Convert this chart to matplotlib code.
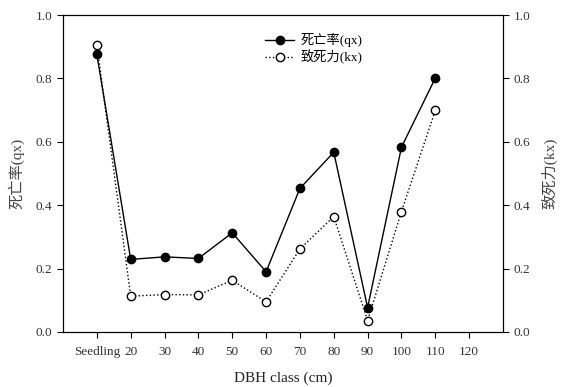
import matplotlib
matplotlib.use('Agg')
import matplotlib.pyplot as plt

plt.rcParams['font.family'] = ['Liberation Serif', 'Noto Sans CJK SC']

# DBH classes and life table values
classes = ['Seedling', '20', '30', '40', '50', '60', '70', '80', '90', '100', '110', '120']
qx = [0.876, 0.229, 0.237, 0.232, 0.313, 0.190, 0.453, 0.567, 0.077, 0.583, 0.801]
kx = [0.905, 0.113, 0.118, 0.117, 0.163, 0.095, 0.262, 0.364, 0.036, 0.380, 0.699]

fig = plt.figure(figsize=(5.64, 3.87), dpi=100)
ax1 = fig.add_axes([63/564, 1 - 332/387, 440/564, 317/387])
ax2 = ax1.twinx()

x = list(range(len(qx)))
l1, = ax1.plot(x, qx, color='black', linestyle='-', linewidth=1, marker='o',
               markersize=6, markerfacecolor='black', markeredgecolor='black',
               label='死亡率(qx)', zorder=3)
l2, = ax2.plot(x, kx, color='black', linestyle=':', linewidth=1, marker='o',
               markersize=6, markerfacecolor='white', markeredgecolor='black',
               label='致死力(kx)', zorder=3)

for ax in (ax1, ax2):
    ax.set_ylim(0, 1.0)
    ax.set_yticks([0.0, 0.2, 0.4, 0.6, 0.8, 1.0])
    ax.set_yticklabels(['0.0', '0.2', '0.4', '0.6', '0.8', '1.0'])
    ax.tick_params(direction='out', labelsize=9.5, labelcolor='#333333', length=4, width=0.8)
    for s in ax.spines.values():
        s.set_linewidth(0.8)

ax1.set_xlim(-1, 12)
ax1.set_xticks(range(len(classes)))
ax1.set_xticklabels(classes)
ax1.tick_params(axis='x', pad=6)

ax1.set_xlabel('DBH class (cm)', fontsize=11, color='#222222', labelpad=10)
ax1.set_ylabel('死亡率(qx)', fontsize=11, color='#444444', labelpad=8)
ax2.set_ylabel('致死力(kx)', fontsize=11, color='#444444', labelpad=8)

ax1.legend(handles=[l1, l2], loc='upper center', bbox_to_anchor=(0.57, 0.98),
           frameon=False, fontsize=9.5, handlelength=2.2, labelspacing=0.2,
           handletextpad=0.5)

plt.savefig('out.png', dpi=100)
